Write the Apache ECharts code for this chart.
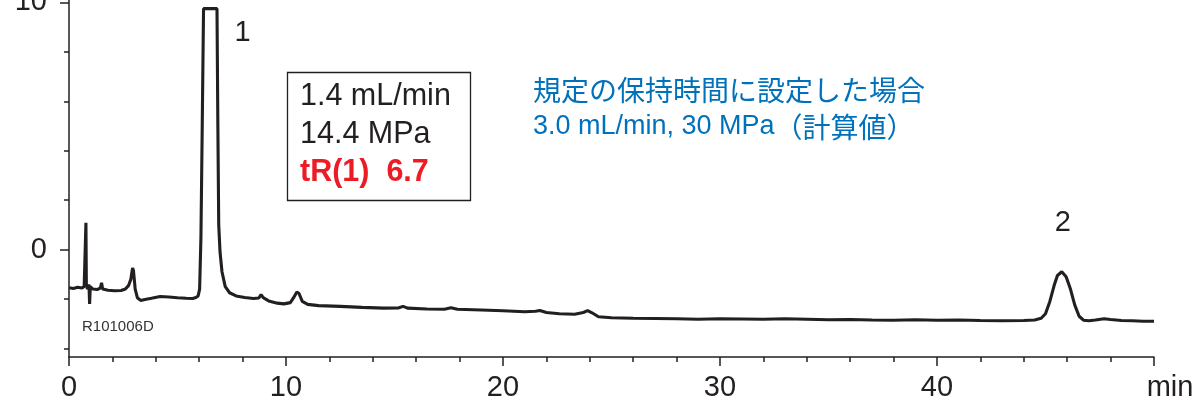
<!DOCTYPE html>
<html>
<head>
<meta charset="utf-8">
<script src="https://cdn.jsdelivr.net/npm/echarts@6/dist/echarts.min.js"></script>
<style>
html,body{margin:0;padding:0;background:#fff;}
#chart{width:1194px;height:399px;}
</style>
</head>
<body>
<div id="chart"></div>
<script>
// time (min) and detector signal
const signal = [
 [0,-1.55],[0.2,-1.58],[0.4,-1.53],[0.6,-1.56],[0.7,-1.5],[0.76,-1.45],[0.78,1.08],[0.8,-1.4],[0.85,-1.6],[0.92,-1.42],[0.95,-2.2],[0.98,-1.5],
 [1.1,-1.6],[1.3,-1.62],[1.45,-1.55],[1.5,-1.35],[1.55,-1.6],[1.8,-1.65],[2.1,-1.67],[2.4,-1.66],[2.6,-1.6],[2.75,-1.45],[2.85,-1.2],[2.93,-0.75],[2.97,-0.85],
 [3.05,-1.6],[3.15,-1.95],[3.3,-2.06],[3.5,-2.02],[3.8,-1.97],[4.2,-1.9],[4.6,-1.92],[5.0,-1.95],[5.4,-1.97],[5.7,-1.98],[5.85,-1.94],[5.95,-1.88],[6.02,-1.6],
 [6.08,0.5],[6.14,5.0],[6.2,9.75],[6.5,9.75],[6.82,9.75],[6.86,5.0],[6.9,1.0],[6.96,-0.1],[7.05,-0.9],[7.2,-1.5],[7.4,-1.75],[7.7,-1.88],
 [8.1,-1.94],[8.5,-1.98],[8.75,-1.96],[8.85,-1.82],[8.95,-1.95],[9.2,-2.08],[9.6,-2.17],[9.9,-2.2],[10.2,-2.15],[10.35,-1.95],[10.5,-1.72],[10.6,-1.78],[10.75,-2.1],
 [11,-2.22],[11.5,-2.27],[12.5,-2.3],[13.5,-2.34],[14.5,-2.37],[15.2,-2.36],[15.4,-2.3],[15.6,-2.37],[16.5,-2.41],[17.3,-2.42],[17.6,-2.36],[17.9,-2.42],
 [19,-2.45],[20,-2.48],[21,-2.52],[21.5,-2.5],[21.7,-2.47],[22,-2.55],[22.6,-2.6],[23.3,-2.62],[23.7,-2.55],[23.9,-2.47],[24.1,-2.56],[24.4,-2.72],
 [25,-2.76],[26,-2.78],[27,-2.79],[28,-2.8],[29,-2.82],[30,-2.8],[31,-2.81],[32,-2.82],[33,-2.8],[34,-2.82],[35,-2.84],[36,-2.83],[37,-2.85],[38,-2.86],
 [39,-2.84],[40,-2.86],[41,-2.85],[42,-2.87],[43,-2.88],[44,-2.87],[44.5,-2.85],[44.8,-2.78],[45.0,-2.6],[45.2,-2.1],[45.4,-1.45],[45.55,-1.05],[45.75,-0.9],
 [45.95,-1.1],[46.15,-1.6],[46.35,-2.25],[46.55,-2.7],[46.75,-2.86],[47.0,-2.88],[47.3,-2.85],[47.7,-2.8],[48,-2.83],[48.5,-2.87],[49,-2.88],[49.5,-2.9],[50,-2.9]
];
const peakLabels = [
 {name:'1', value:[8.0, 8.75]},
 {name:'2', value:[45.8, 1.09]}
];
const xTickLabels = [0,10,20,30,40];
const yTickLabels = [0,10];
const yMinorTicks = [-4,-2,2,4,6,8];
const boxLines = ['1.4 mL/min','14.4 MPa','tR(1)  6.7'];
const noteLine1 = '規定の保持時間に設定した場合';
const noteLine2a = '3.0 mL/min, 30 MPa';
const noteLine2b = '（計算値）';
const sampleId = 'R101006D';

const ink = '#231f20';
const blue = '#0072bc';
const FF = '"Liberation Sans", Arial, "Noto Sans CJK JP", sans-serif';
const FJ = '"Noto Sans CJK JP", sans-serif';
const chart = echarts.init(document.getElementById('chart'), null, {renderer:'canvas'});
chart.setOption({
  animation:false,
  backgroundColor:'#fff',
  grid:{left:69,right:40,top:0,bottom:42,containLabel:false,outerBoundsMode:'none'},
  xAxis:{
    type:'value',min:0,max:50,interval:10,
    axisLine:{onZero:false,lineStyle:{color:ink,width:1.5}},
    axisTick:{length:9,lineStyle:{color:ink,width:1.5}},
    minorTick:{show:true,splitNumber:5,length:5,lineStyle:{color:ink,width:1.5}},
    splitLine:{show:false},
    axisLabel:{
      fontSize:29,fontFamily:FF,color:ink,margin:16,
      formatter:function(v){ return xTickLabels.indexOf(v)>=0 ? String(v) : (v===50 ? '{m|min}' : ''); },
      rich:{m:{fontSize:29,fontFamily:FF,color:ink,padding:[0,0,0,32]}}
    }
  },
  yAxis:[{
    type:'value',min:-4.35,max:10.1,
    axisLine:{show:true,onZero:false,lineStyle:{color:ink,width:1.5}},
    axisTick:{show:true,length:9,customValues:yTickLabels,lineStyle:{color:ink,width:1.5}},
    axisLabel:{customValues:yTickLabels,fontSize:29,fontFamily:FF,color:ink,margin:22},
    splitLine:{show:false}
  },{
    type:'value',min:-4.35,max:10.1,position:'left',offset:0,
    axisLine:{show:false,onZero:false},
    axisTick:{show:true,length:5,customValues:yMinorTicks,lineStyle:{color:ink,width:1.5}},
    axisLabel:{show:false},
    splitLine:{show:false}
  }],
  series:[{
    type:'line',data:signal,showSymbol:false,symbol:'none',
    lineStyle:{color:ink,width:3.1},clip:true,z:3
  },{
    type:'scatter',data:peakLabels,symbolSize:0,itemStyle:{opacity:1,color:ink},
    label:{show:true,position:'inside',formatter:function(p){return p.name;},fontSize:29,fontFamily:FF,color:ink,opacity:1}
  }],
  graphic:[
    {type:'rect',shape:{x:287.5,y:72.5,width:183,height:128},style:{fill:'#fff',stroke:ink,lineWidth:1.3},z:10},
    {type:'text',x:300,y:97,style:{text:boxLines[0],font:'30.5px '+FF,fill:ink,textVerticalAlign:'middle'},z:11},
    {type:'text',x:300,y:135,style:{text:boxLines[1],font:'30.5px '+FF,fill:ink,textVerticalAlign:'middle'},z:11},
    {type:'text',x:300,y:173,style:{text:boxLines[2],font:'bold 30.5px '+FF,fill:'#ed1c24',textVerticalAlign:'middle'},z:11},
    {type:'text',x:533,y:93,style:{text:noteLine1,font:'28px '+FF,fill:blue,textVerticalAlign:'middle'},z:11},
    {type:'text',x:533,y:127,style:{
      text:'{a|'+noteLine2a+'}{b|'+noteLine2b+'}',
      textVerticalAlign:'middle',
      rich:{a:{fontSize:27,fontFamily:FF,fill:blue,color:blue},b:{fontSize:28,fontFamily:FJ,fill:blue,color:blue}}
    },z:11},
    {type:'text',x:82,y:327,style:{text:sampleId,font:'15px '+FF,fill:'#333',textVerticalAlign:'middle'},z:11}
  ]
});
</script>
</body>
</html>
